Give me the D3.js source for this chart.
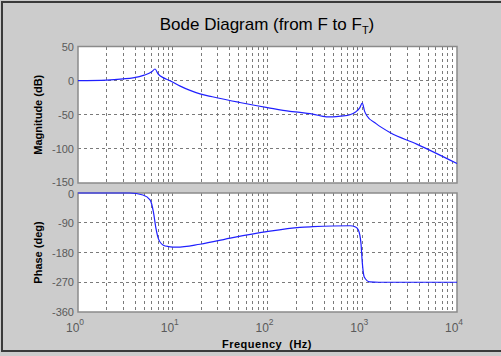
<!DOCTYPE html>
<html>
<head>
<meta charset="utf-8">
<script src="https://cdn.jsdelivr.net/npm/d3@7"></script>
<style>
  html, body { margin: 0; padding: 0; background: #cccccc; }
  svg { display: block; }
</style>
</head>
<body>
<svg id="chart" width="501" height="356"></svg>
<script>
// Frequency response of F -> F_T
const magFreq = [1, 2, 3, 3.8, 5, 6, 6.5, 7, 8, 9, 12, 15, 19.4, 25, 30, 51, 100, 173, 220, 300, 420, 490, 600, 742, 850, 940, 1000, 1060, 1114, 1400, 1960, 3760, 10000];
const magDb   = [0, 0.8, 2.5, 4, 8, 13, 17, 10, 4, 1, -8, -14, -19.5, -23, -25.5, -32, -39.5, -45, -46.5, -49, -53, -53, -52, -50, -46, -40, -33, -45, -51, -63, -76, -93, -121.5];

const phaseFreq = [1, 3.5, 4.85, 5.76, 6.24, 6.65, 7.05, 7.95, 9, 11, 19.4, 43, 98, 220, 300, 742, 850, 910, 970, 1000, 1050, 1200, 1500, 10000];
const phaseDeg  = [0, 0, -6, -21, -56, -107, -138, -158, -162, -164, -155, -135, -117, -104, -102, -99, -103, -112, -153, -209, -254, -269, -270, -270];

const magTicks = [50, 0, -50, -100, -150];
const phaseTicks = [0, -90, -180, -270, -360];
const decades = [0, 1, 2, 3, 4];

const svg = d3.select("#chart");
const W = 501, H = 356;
const left = 78, right = 457;
const FONT = "Liberation Sans, Arial, sans-serif";

// figure frame
svg.append("rect").attr("x", 2).attr("y", 2).attr("width", W + 10).attr("height", 349)
  .attr("fill", "#cccccc").attr("stroke", "#3a3a3a").attr("stroke-width", 2);

const x = d3.scaleLog().domain([1, 10000]).range([left, right]);

const panels = [
  { top: 46.5, bottom: 183, domain: [-150, 50], ticks: magTicks, fr: magFreq, vals: magDb, label: "Magnitude (dB)" },
  { top: 193, bottom: 312, domain: [-360, 0], ticks: phaseTicks, fr: phaseFreq, vals: phaseDeg, label: "Phase (deg)" }
];

const minor = [];
for (let d = 0; d < 4; d++) for (let k = 1; k <= 9; k++) minor.push(k * Math.pow(10, d));
minor.push(10000);

panels.forEach((p, pi) => {
  const y = d3.scaleLinear().domain(p.domain).range([p.bottom, p.top]);
  const g = svg.append("g");
  g.append("rect").attr("x", left).attr("y", p.top).attr("width", right - left).attr("height", p.bottom - p.top)
    .attr("fill", "#ffffff");

  // vertical grid
  g.selectAll("line.vg").data(minor.filter(f => f > 1 && f < 10000)).join("line")
    .attr("x1", d => x(d)).attr("x2", d => x(d)).attr("y1", p.top).attr("y2", p.bottom)
    .attr("stroke", "#7a7a7a").attr("stroke-width", 1).attr("stroke-dasharray", "3,3")
    .attr("shape-rendering", "crispEdges");
  // horizontal grid
  g.selectAll("line.hg").data(p.ticks.filter(t => t !== p.domain[0] && t !== p.domain[1])).join("line")
    .attr("x1", left).attr("x2", right).attr("y1", d => y(d)).attr("y2", d => y(d))
    .attr("stroke", "#7a7a7a").attr("stroke-width", 1).attr("stroke-dasharray", "3,3")
    .attr("shape-rendering", "crispEdges");

  // axis box
  g.append("rect").attr("x", left).attr("y", p.top).attr("width", right - left).attr("height", p.bottom - p.top)
    .attr("fill", "none").attr("stroke", "#8a8a8a").attr("stroke-width", 1.5);

  // y tick labels; the labels where the two panels meet are nudged apart
  const nudge = d => {
    if (pi === 0 && d === p.domain[0]) return 3;
    if (pi === 1 && d === p.domain[1]) return 5;
    return 4;
  };
  g.selectAll("text.yt").data(p.ticks).join("text")
    .attr("x", 74).attr("y", d => y(d) + nudge(d)).attr("text-anchor", "end")
    .attr("font-family", FONT).attr("font-size", 11)
    .attr("fill", "#5a5a5a").text(d => d);

  // y axis label
  const cy = (p.top + p.bottom) / 2;
  g.append("text").attr("transform", `translate(42,${cy}) rotate(-90)`)
    .attr("text-anchor", "middle").attr("font-family", FONT)
    .attr("font-size", 11).attr("font-weight", "bold").attr("fill", "#000").text(p.label);

  // response curve
  const pts = p.fr.map((f, i) => [f, p.vals[i]]);
  g.append("path").datum(pts)
    .attr("d", d3.line().x(d => x(d[0])).y(d => y(d[1])).curve(d3.curveMonotoneX))
    .attr("fill", "none").attr("stroke", "#2020ff").attr("stroke-width", 1.2);
});

// x tick labels (10^n)
const xt = svg.selectAll("text.xt").data(decades).join("text")
  .attr("x", d => x(Math.pow(10, d)) - 3).attr("y", 332).attr("text-anchor", "middle")
  .attr("font-family", FONT).attr("font-size", 12).attr("fill", "#5a5a5a");
xt.append("tspan").text("10");
xt.append("tspan").attr("dy", -7).attr("font-size", 8.5).text(d => d);

// x axis label
svg.append("text").attr("x", 267).attr("y", 348).attr("text-anchor", "middle")
  .attr("font-family", FONT).attr("font-size", 11)
  .attr("font-weight", "bold").attr("letter-spacing", 0.5).attr("fill", "#000")
  .attr("xml:space", "preserve").text("Frequency  (Hz)");

// title
const title = svg.append("text").attr("x", 267).attr("y", 30).attr("text-anchor", "middle")
  .attr("font-family", FONT).attr("font-size", 17).attr("fill", "#000");
title.append("tspan").text("Bode Diagram (from F to F");
title.append("tspan").attr("dy", 4).attr("font-size", 11).text("T");
title.append("tspan").attr("dy", -4).text(")");
</script>
</body>
</html>
